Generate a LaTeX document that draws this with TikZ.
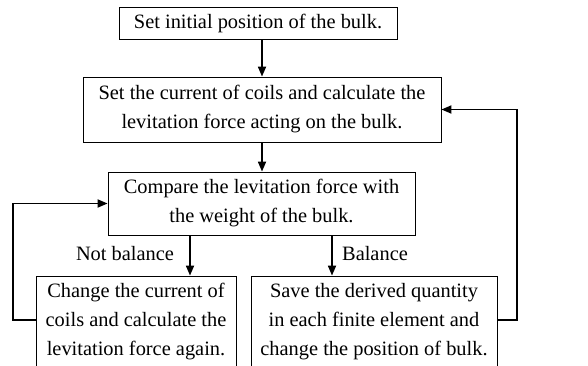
\documentclass[tikz,border=0pt]{standalone}
\usepackage{fontspec}
\setmainfont{Liberation Serif}
\usetikzlibrary{arrows.meta}
\begin{document}
\begin{tikzpicture}[x=1pt,y=-1pt,
  box/.style={draw,line width=0.8pt,align=center,inner sep=0pt,font=\fontsize{20.4}{29}\selectfont},
  conn/.style={line width=1.7pt,-{Triangle[length=10pt,width=8pt]}},
  lab/.style={font=\fontsize{20.4}{29}\selectfont}]
\useasboundingbox (0,0) rectangle (588,366);
\node[box,minimum width=278pt,minimum height=32pt] (b1) at (258,23) {Set initial position of the bulk.};
\node[box,minimum width=358pt,minimum height=65pt] (b2) at (262,109.5) {Set the current of coils and calculate the\\levitation force acting on the bulk.};
\node[box,minimum width=307pt,minimum height=63pt] (b3) at (261.5,203.5) {Compare the levitation force with\\the weight of the bulk.};
\node[box,minimum width=200pt,minimum height=92pt] (b4) at (136,322) {Change the current of\\coils and calculate the\\levitation force again.};
\node[box,minimum width=246pt,minimum height=92pt] (b5) at (374,322) {Save the derived quantity\\in each finite element and\\change the position of bulk.};
\node[lab] (l1) at (125,254) {Not balance};
\node[lab] (l2) at (375,254) {Balance};
\coordinate (xa) at (190,0);
\coordinate (xb) at (332,0);
\coordinate (yf) at (0,320);
\coordinate (xl) at (13,0);
\coordinate (xr) at (517,0);
\draw[conn] (b2.north |- b1.south) -- (b2.north);
\draw[conn] (b2.south) -- (b2.south |- b3.north);
\draw[conn] (b3.south -| xa) -- (b4.north -| xa);
\draw[conn] (b3.south -| xb) -- (b5.north -| xb);
\draw[conn] (b4.west |- yf) -- (xl |- yf) |- (b3.west);
\draw[conn] (b5.east |- yf) -- (xr |- yf) |- (b2.east);
\end{tikzpicture}
\end{document}
